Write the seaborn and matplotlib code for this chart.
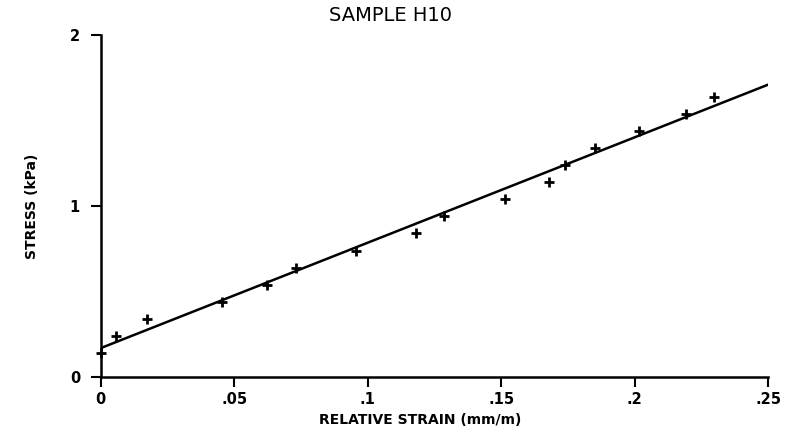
###############################################################################
# Sample H10: stress vs relative strain with fitted line
###############################################################################
import numpy as np
import pandas as pd
import matplotlib
matplotlib.use("Agg")
import matplotlib.pyplot as plt
import seaborn as sns

strain = [0.0, 0.0056, 0.0172, 0.0454, 0.0622, 0.0730, 0.0956, 0.1180,
          0.1286, 0.1514, 0.1680, 0.1740, 0.1850, 0.2017, 0.2190, 0.2298]
stress = [0.14, 0.24, 0.34, 0.44, 0.54, 0.64, 0.74, 0.84,
          0.94, 1.04, 1.14, 1.24, 1.34, 1.44, 1.54, 1.64]

# Fitted line end points
fit_strain = [0.0, 0.25]
fit_stress = [0.17, 1.71]

# Axis ticks
x_ticks = [0, 0.05, 0.1, 0.15, 0.2, 0.25]
x_tick_labels = ["0", ".05", ".1", ".15", ".2", ".25"]
y_ticks = [0, 1, 2]
y_tick_labels = ["0", "1", "2"]

points = pd.DataFrame({"strain": strain, "stress": stress})
fit = pd.DataFrame({"strain": fit_strain, "stress": fit_stress})

sns.set_style("white")
plt.rcParams["font.family"] = ["DejaVu Sans"]
plt.rcParams["text.color"] = "black"

fig = plt.figure(figsize=(7.88, 4.37), dpi=100)
ax = fig.add_axes([0.128, 0.137, 0.847, 0.783])

sns.lineplot(data=fit, x="strain", y="stress", color="black",
             linewidth=1.8, ax=ax)
sns.scatterplot(data=points, x="strain", y="stress", marker="+", s=60,
                color="black", linewidth=2.0, clip_on=False, ax=ax)

ax.set_xlim(0, 0.25)
ax.set_ylim(0, 2)
ax.set_xticks(x_ticks)
ax.set_xticklabels(x_tick_labels, fontsize=10.5, fontweight="bold")
ax.set_yticks(y_ticks)
ax.set_yticklabels(y_tick_labels, fontsize=10.5, fontweight="bold")
ax.tick_params(axis="both", bottom=True, left=True, direction="out",
               length=7, width=1.5, color="black", labelcolor="black")
ax.tick_params(axis="x", pad=4)
ax.tick_params(axis="y", pad=8)

for side in ["top", "right"]:
    ax.spines[side].set_visible(False)
for side in ["left", "bottom"]:
    ax.spines[side].set_color("black")
    ax.spines[side].set_linewidth(1.8)

ax.set_xlabel("")
ax.set_ylabel("")
fig.text(0.533, 0.04, "RELATIVE STRAIN (mm/m)", ha="center", va="center",
         fontsize=10, fontweight="bold")
fig.text(0.04, 0.528, "STRESS (kPa)", ha="center", va="center",
         rotation=90, fontsize=10, fontweight="bold")
fig.text(0.495, 0.965, "SAMPLE H10", ha="center", va="center", fontsize=14)

plt.savefig("out.png", dpi=100)
plt.close()
